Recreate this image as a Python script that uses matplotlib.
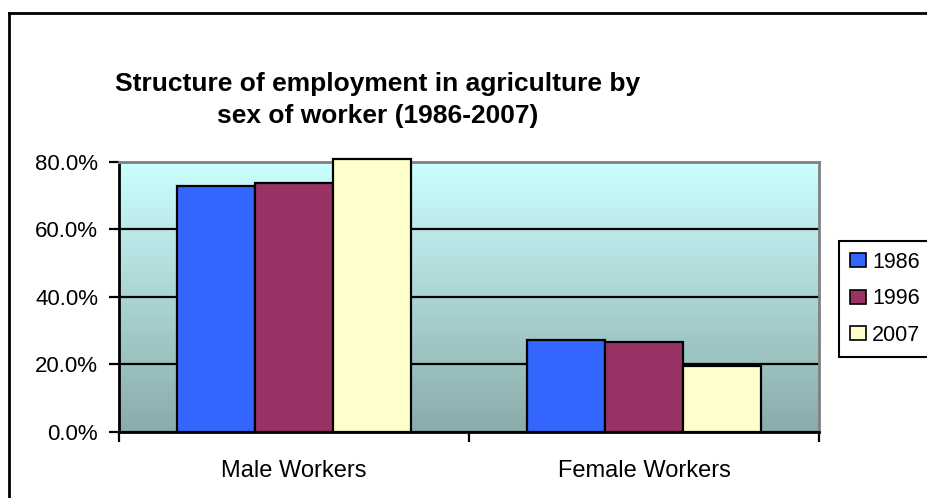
import numpy as np
import matplotlib.pyplot as plt
from matplotlib.colors import LinearSegmentedColormap
from matplotlib.lines import Line2D

plt.rcParams['font.family'] = ['Liberation Sans', 'DejaVu Sans']

categories = ["Male Workers", "Female Workers"]
years = ["1986", "1996", "2007"]
share_1986 = [72.9, 27.2]
share_1996 = [73.5, 26.5]
share_2007 = [80.6, 19.6]
y_ticks = [0, 20, 40, 60, 80]

colors = ["#3366FF", "#993366", "#FFFFCC"]
series = [share_1986, share_1996, share_2007]

fig = plt.figure(figsize=(9.27, 4.98), dpi=100)
ax = fig.add_axes([119 / 927, 1 - 432 / 498, 700 / 927, 270.5 / 498])

# gradient background of the plot area
grad = LinearSegmentedColormap.from_list("bg", ["#8AABAB", "#CCFFFF"])
ax.imshow(np.linspace(0, 1, 256).reshape(-1, 1), cmap=grad, origin="lower",
          extent=[-0.5, 1.5, 0, 80], aspect="auto", zorder=0)

x = np.arange(len(categories))
w = 78 / 350
for i in range(3):
    ax.bar(x + (i - 1) * w, series[i], w, color=colors[i], edgecolor="black",
           linewidth=1.6, label=years[i], zorder=3, clip_on=False)

ax.set_xlim(-0.5, 1.5)
ax.set_ylim(0, 80)
ax.set_yticks(y_ticks)
ax.set_yticklabels([f"{v:.1f}%" for v in y_ticks])
ax.yaxis.grid(True, color="black", linewidth=1.6, zorder=1)
ax.set_axisbelow(True)

ax.set_xticks(x)
ax.set_xticklabels(categories)
ax.set_xticks([-0.5, 0.5, 1.5], minor=True)
ax.tick_params(axis="x", which="major", length=0, pad=20, labelsize=17)
ax.tick_params(axis="x", which="minor", length=7, width=1.6, direction="out")
ax.tick_params(axis="y", length=7, width=1.6, direction="out", pad=8, labelsize=16)

for s in ["left", "bottom"]:
    ax.spines[s].set_linewidth(2)
    ax.spines[s].set_color("black")
for s in ["top", "right"]:
    ax.spines[s].set_linewidth(2)
    ax.spines[s].set_color("#808080")

fig.text(378 / 927, 1 - 100 / 498, "Structure of employment in agriculture by\nsex of worker (1986-2007)",
         ha="center", va="center", fontsize=19, fontweight="bold", linespacing=1.45)

leg = fig.legend(loc="upper left", bbox_to_anchor=(839 / 927, 1 - 241 / 498),
                 fontsize=15.5, frameon=True, fancybox=False, framealpha=1,
                 edgecolor="black", handlelength=0.74, handleheight=0.6,
                 handletextpad=0.3, labelspacing=0.72, borderpad=0.5, borderaxespad=0)
leg.get_frame().set_linewidth(1.5)
for h in leg.legend_handles:
    h.set_linewidth(1.2)

# outer chart border (only top and left edges are visible)
fig.add_artist(Line2D([9 / 927, 9 / 927], [0, 1 - 13 / 498], color="black", lw=2))
fig.add_artist(Line2D([9 / 927, 1], [1 - 13 / 498, 1 - 13 / 498], color="black", lw=2))

fig.savefig("out.png", dpi=100)
